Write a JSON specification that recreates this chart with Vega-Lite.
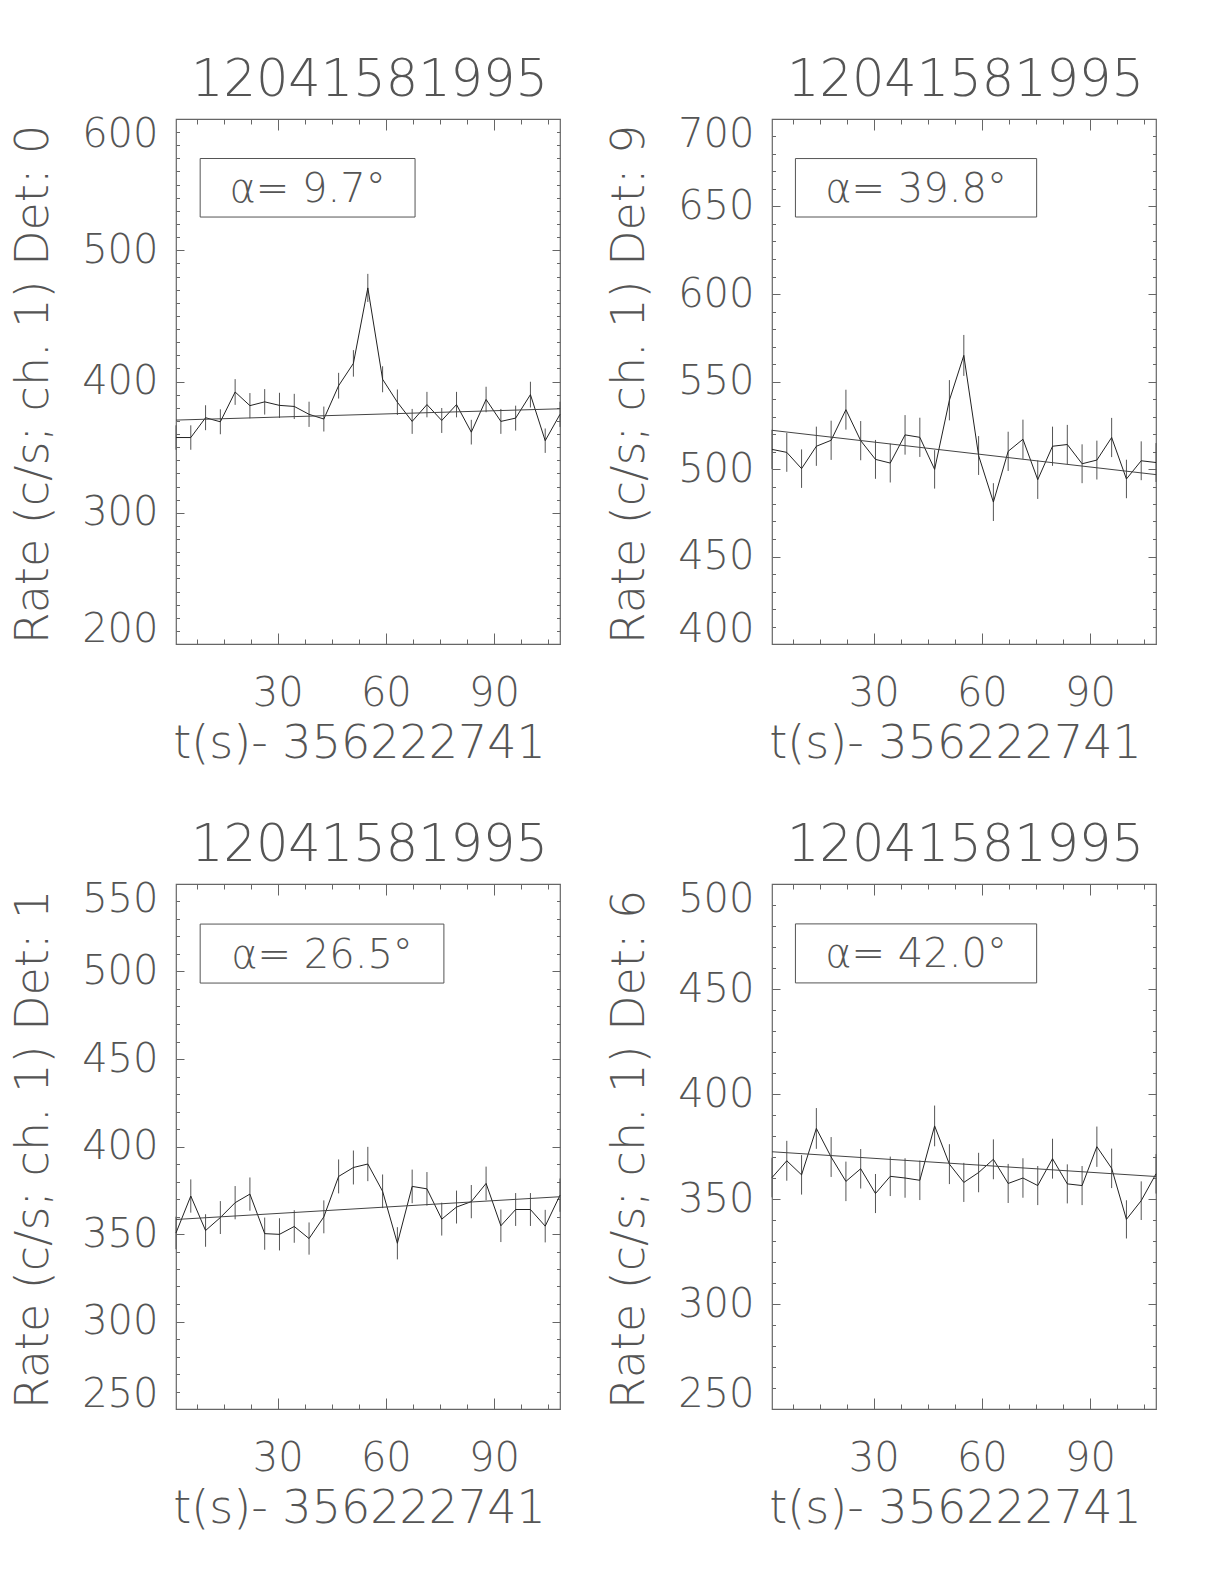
{
"$schema": "https://vega.github.io/schema/vega-lite/v6.json",
"background": "white",
"padding": {"left": 9, "top": 53, "right": 10, "bottom": 10},
"columns": 2,
"spacing": {"row": 240, "column": 212},
"bounds": "flush",
"datasets": {
"p1": [
{"t":1.8,"rate":357.3,"err":9.3},{"t":5.9,"rate":357.3,"err":9.3},{"t":10.0,"rate":372.4,"err":9.5},{"t":14.1,"rate":369.3,"err":9.5},{"t":18.2,"rate":392.0,"err":9.8},{"t":22.3,"rate":381.6,"err":9.6},{"t":26.4,"rate":384.5,"err":9.7},{"t":30.5,"rate":381.8,"err":9.6},{"t":34.6,"rate":381.0,"err":9.6},{"t":38.7,"rate":375.0,"err":9.6},{"t":42.8,"rate":371.4,"err":9.5},{"t":46.9,"rate":396.8,"err":9.8},{"t":51.0,"rate":413.8,"err":10.1},{"t":55.0,"rate":471.3,"err":10.7},{"t":59.1,"rate":401.7,"err":9.9},{"t":63.2,"rate":384.2,"err":9.7},{"t":67.3,"rate":369.6,"err":9.5},{"t":71.4,"rate":382.4,"err":9.7},{"t":75.5,"rate":370.3,"err":9.5},{"t":79.6,"rate":382.4,"err":9.7},{"t":83.7,"rate":361.4,"err":9.4},{"t":87.8,"rate":386.3,"err":9.7},{"t":91.9,"rate":369.6,"err":9.5},{"t":96.0,"rate":372.1,"err":9.5},{"t":100.1,"rate":390.0,"err":9.8},{"t":104.2,"rate":354.9,"err":9.3},{"t":108.3,"rate":375.0,"err":9.6}
],
"f1": [{"t":1.8,"fit":370.6},{"t":108.3,"fit":379.2}],
"p2": [
{"t":1.8,"rate":511.2,"err":11.2},{"t":5.9,"rate":509.5,"err":11.1},{"t":10.0,"rate":500.2,"err":11.0},{"t":14.1,"rate":513.0,"err":11.2},{"t":18.2,"rate":516.4,"err":11.2},{"t":22.3,"rate":533.9,"err":11.4},{"t":26.4,"rate":516.2,"err":11.2},{"t":30.5,"rate":505.5,"err":11.1},{"t":34.6,"rate":503.4,"err":11.1},{"t":38.7,"rate":519.5,"err":11.3},{"t":42.8,"rate":518.1,"err":11.2},{"t":46.9,"rate":499.8,"err":11.0},{"t":51.0,"rate":539.3,"err":11.5},{"t":55.0,"rate":564.9,"err":11.7},{"t":59.1,"rate":507.7,"err":11.1},{"t":63.2,"rate":481.1,"err":10.8},{"t":67.3,"rate":510.1,"err":11.2},{"t":71.4,"rate":517.0,"err":11.2},{"t":75.5,"rate":493.9,"err":11.0},{"t":79.6,"rate":513.0,"err":11.2},{"t":83.7,"rate":514.0,"err":11.2},{"t":87.8,"rate":503.0,"err":11.1},{"t":91.9,"rate":505.1,"err":11.1},{"t":96.0,"rate":518.0,"err":11.2},{"t":100.1,"rate":494.3,"err":11.0},{"t":104.2,"rate":504.7,"err":11.1},{"t":108.3,"rate":503.7,"err":11.1}
],
"f2": [{"t":1.8,"fit":522.1},{"t":108.3,"fit":496.8}],
"p3": [
{"t":1.8,"rate":350.6,"err":9.3},{"t":5.9,"rate":371.7,"err":9.5},{"t":10.0,"rate":352.0,"err":9.3},{"t":14.1,"rate":359.4,"err":9.4},{"t":18.2,"rate":367.9,"err":9.5},{"t":22.3,"rate":372.8,"err":9.5},{"t":26.4,"rate":350.2,"err":9.2},{"t":30.5,"rate":349.8,"err":9.2},{"t":34.6,"rate":354.3,"err":9.3},{"t":38.7,"rate":347.4,"err":9.2},{"t":42.8,"rate":359.8,"err":9.4},{"t":46.9,"rate":382.9,"err":9.7},{"t":51.0,"rate":388.0,"err":9.7},{"t":55.0,"rate":390.0,"err":9.8},{"t":59.1,"rate":374.4,"err":9.6},{"t":63.2,"rate":344.7,"err":9.2},{"t":67.3,"rate":377.2,"err":9.6},{"t":71.4,"rate":375.8,"err":9.6},{"t":75.5,"rate":358.5,"err":9.4},{"t":79.6,"rate":365.4,"err":9.4},{"t":83.7,"rate":368.5,"err":9.5},{"t":87.8,"rate":378.9,"err":9.6},{"t":91.9,"rate":354.7,"err":9.3},{"t":96.0,"rate":364.0,"err":9.4},{"t":100.1,"rate":364.0,"err":9.4},{"t":104.2,"rate":354.5,"err":9.3},{"t":108.3,"rate":372.2,"err":9.5}
],
"f3": [{"t":1.8,"fit":358.3},{"t":108.3,"fit":371.3}],
"p4": [
{"t":1.8,"rate":360.2,"err":9.4},{"t":5.9,"rate":368.2,"err":9.5},{"t":10.0,"rate":361.5,"err":9.4},{"t":14.1,"rate":383.6,"err":9.7},{"t":18.2,"rate":370.0,"err":9.5},{"t":22.3,"rate":358.4,"err":9.4},{"t":26.4,"rate":364.4,"err":9.4},{"t":30.5,"rate":352.6,"err":9.3},{"t":34.6,"rate":360.8,"err":9.4},{"t":38.7,"rate":360.0,"err":9.4},{"t":42.8,"rate":358.9,"err":9.4},{"t":46.9,"rate":384.8,"err":9.7},{"t":51.0,"rate":366.6,"err":9.5},{"t":55.0,"rate":357.9,"err":9.3},{"t":59.1,"rate":362.6,"err":9.4},{"t":63.2,"rate":368.9,"err":9.5},{"t":67.3,"rate":357.4,"err":9.3},{"t":71.4,"rate":360.0,"err":9.4},{"t":75.5,"rate":356.4,"err":9.3},{"t":79.6,"rate":369.2,"err":9.5},{"t":83.7,"rate":357.2,"err":9.3},{"t":87.8,"rate":356.4,"err":9.3},{"t":91.9,"rate":374.9,"err":9.6},{"t":96.0,"rate":364.6,"err":9.4},{"t":100.1,"rate":340.3,"err":9.1},{"t":104.2,"rate":349.2,"err":9.2},{"t":108.3,"rate":362.0,"err":9.4}
],
"f4": [{"t":1.8,"fit":372.5},{"t":108.3,"fit":360.7}]
},
"concat": [
{
"width": 384, "height": 525,
"resolve": {"axis": {"x": "independent", "y": "independent"}},
"layer": [
{"data": {"name": "p1"}, "mark": {"type": "errorbar", "ticks": false, "color": "#555", "thickness": 1},
 "encoding": {
  "x": {"field": "t", "type": "quantitative", "scale": {"domain": [1.8, 108.3], "nice": false, "zero": false},
        "axis": {"orient": "bottom", "values": [7.5,15,22.5,30,37.5,45,52.5,60,67.5,75,82.5,90,97.5,105], "labelExpr": "datum.value % 30 === 0 ? datum.label : ''", "tickSize": {"condition": {"test": "datum.value % 30 === 0", "value": -11}, "value": -5}, "labelPadding": 40, "labelFlush": false, "title": "t(s)- 356222741", "titleX": 183, "titleY": 113, "titleBaseline": "alphabetic", "titleAlign": "center"}},
  "y": {"field": "rate", "type": "quantitative", "scale": {"domain": [200, 600], "nice": false, "zero": false},
        "axis": {"orient": "left", "values": [200,210,220,230,240,250,260,270,280,290,300,310,320,330,340,350,360,370,380,390,400,410,420,430,440,450,460,470,480,490,500,510,520,530,540,550,560,570,580,590,600], "labelExpr": "datum.value % 100 === 0 ? datum.label : ''", "tickSize": {"condition": {"test": "datum.value % 100 === 0", "value": -8}, "value": -3.5}, "labelPadding": 26, "labelFlush": true, "labelFlushOffset": 5, "title": "Rate (c/s; ch. 1) Det: 0", "titleX": -129, "titleY": 265, "titleAngle": 270, "titleBaseline": "alphabetic", "titleAlign": "center"}},
  "yError": {"field": "err"}
 }},
{"data": {"name": "p1"}, "mark": {"type": "line", "color": "#222", "strokeWidth": 1},
 "encoding": {
  "x": {"field": "t", "type": "quantitative", "scale": {"domain": [1.8, 108.3], "nice": false, "zero": false},
        "axis": {"orient": "top", "values": [7.5,15,22.5,30,37.5,45,52.5,60,67.5,75,82.5,90,97.5,105], "labels": false, "tickSize": {"condition": {"test": "datum.value % 30 === 0", "value": -11}, "value": -5}, "title": "12041581995", "titleX": 193, "titleY": -24, "titleBaseline": "alphabetic", "titleAlign": "center", "titleFontSize": 51}},
  "y": {"field": "rate", "type": "quantitative", "scale": {"domain": [200, 600], "nice": false, "zero": false},
        "axis": {"orient": "right", "values": [200,210,220,230,240,250,260,270,280,290,300,310,320,330,340,350,360,370,380,390,400,410,420,430,440,450,460,470,480,490,500,510,520,530,540,550,560,570,580,590,600], "labels": false, "title": null, "tickSize": {"condition": {"test": "datum.value % 100 === 0", "value": -8}, "value": -3.5}}}
 }},
{"data": {"name": "f1"}, "mark": {"type": "line", "color": "#444", "strokeWidth": 1},
 "encoding": {"x": {"field": "t", "type": "quantitative", "axis": null}, "y": {"field": "fit", "type": "quantitative", "axis": null}}},
{"data": {"values": [{"label": "α= 9.7°"}]}, "mark": {"type": "rect", "fillOpacity": 0, "stroke": "#555", "strokeWidth": 1},
 "encoding": {"x": {"datum": 8.5, "type": "quantitative", "axis": null}, "x2": {"datum": 68.1}, "y": {"datum": 525.3, "type": "quantitative", "axis": null}, "y2": {"datum": 569.9}}},
{"data": {"values": [{"label": "α= 9.7°"}]}, "mark": {"type": "text", "font": "DejaVu Sans", "fontWeight": 200, "fontSize": 40, "color": "#555", "align": "center", "baseline": "middle", "dy": 2},
 "encoding": {"x": {"datum": 38.3, "type": "quantitative", "axis": null}, "y": {"datum": 547.6, "type": "quantitative", "axis": null}, "text": {"field": "label"}}}
]
},
{
"width": 384, "height": 525,
"resolve": {"axis": {"x": "independent", "y": "independent"}},
"layer": [
{"data": {"name": "p2"}, "mark": {"type": "errorbar", "ticks": false, "color": "#555", "thickness": 1},
 "encoding": {
  "x": {"field": "t", "type": "quantitative", "scale": {"domain": [1.8, 108.3], "nice": false, "zero": false},
        "axis": {"orient": "bottom", "values": [7.5,15,22.5,30,37.5,45,52.5,60,67.5,75,82.5,90,97.5,105], "labelExpr": "datum.value % 30 === 0 ? datum.label : ''", "tickSize": {"condition": {"test": "datum.value % 30 === 0", "value": -11}, "value": -5}, "labelPadding": 40, "labelFlush": false, "title": "t(s)- 356222741", "titleX": 183, "titleY": 113, "titleBaseline": "alphabetic", "titleAlign": "center"}},
  "y": {"field": "rate", "type": "quantitative", "scale": {"domain": [400, 700], "nice": false, "zero": false},
        "axis": {"orient": "left", "values": [400,410,420,430,440,450,460,470,480,490,500,510,520,530,540,550,560,570,580,590,600,610,620,630,640,650,660,670,680,690,700], "labelExpr": "datum.value % 50 === 0 ? datum.label : ''", "tickSize": {"condition": {"test": "datum.value % 50 === 0", "value": -8}, "value": -3.5}, "labelPadding": 26, "labelFlush": true, "labelFlushOffset": 5, "title": "Rate (c/s; ch. 1) Det: 9", "titleX": -129, "titleY": 265, "titleAngle": 270, "titleBaseline": "alphabetic", "titleAlign": "center"}},
  "yError": {"field": "err"}
 }},
{"data": {"name": "p2"}, "mark": {"type": "line", "color": "#222", "strokeWidth": 1},
 "encoding": {
  "x": {"field": "t", "type": "quantitative", "scale": {"domain": [1.8, 108.3], "nice": false, "zero": false},
        "axis": {"orient": "top", "values": [7.5,15,22.5,30,37.5,45,52.5,60,67.5,75,82.5,90,97.5,105], "labels": false, "tickSize": {"condition": {"test": "datum.value % 30 === 0", "value": -11}, "value": -5}, "title": "12041581995", "titleX": 193, "titleY": -24, "titleBaseline": "alphabetic", "titleAlign": "center", "titleFontSize": 51}},
  "y": {"field": "rate", "type": "quantitative", "scale": {"domain": [400, 700], "nice": false, "zero": false},
        "axis": {"orient": "right", "values": [400,410,420,430,440,450,460,470,480,490,500,510,520,530,540,550,560,570,580,590,600,610,620,630,640,650,660,670,680,690,700], "labels": false, "title": null, "tickSize": {"condition": {"test": "datum.value % 50 === 0", "value": -8}, "value": -3.5}}}
 }},
{"data": {"name": "f2"}, "mark": {"type": "line", "color": "#444", "strokeWidth": 1},
 "encoding": {"x": {"field": "t", "type": "quantitative", "axis": null}, "y": {"field": "fit", "type": "quantitative", "axis": null}}},
{"data": {"values": [{"label": "α= 39.8°"}]}, "mark": {"type": "rect", "fillOpacity": 0, "stroke": "#555", "strokeWidth": 1},
 "encoding": {"x": {"datum": 8.3, "type": "quantitative", "axis": null}, "x2": {"datum": 75.2}, "y": {"datum": 644.0, "type": "quantitative", "axis": null}, "y2": {"datum": 677.4}}},
{"data": {"values": [{"label": "α= 39.8°"}]}, "mark": {"type": "text", "font": "DejaVu Sans", "fontWeight": 200, "fontSize": 40, "color": "#555", "align": "center", "baseline": "middle", "dy": 2},
 "encoding": {"x": {"datum": 41.75, "type": "quantitative", "axis": null}, "y": {"datum": 660.7, "type": "quantitative", "axis": null}, "text": {"field": "label"}}}
]
},
{
"width": 384, "height": 525,
"resolve": {"axis": {"x": "independent", "y": "independent"}},
"layer": [
{"data": {"name": "p3"}, "mark": {"type": "errorbar", "ticks": false, "color": "#555", "thickness": 1},
 "encoding": {
  "x": {"field": "t", "type": "quantitative", "scale": {"domain": [1.8, 108.3], "nice": false, "zero": false},
        "axis": {"orient": "bottom", "values": [7.5,15,22.5,30,37.5,45,52.5,60,67.5,75,82.5,90,97.5,105], "labelExpr": "datum.value % 30 === 0 ? datum.label : ''", "tickSize": {"condition": {"test": "datum.value % 30 === 0", "value": -11}, "value": -5}, "labelPadding": 40, "labelFlush": false, "title": "t(s)- 356222741", "titleX": 183, "titleY": 113, "titleBaseline": "alphabetic", "titleAlign": "center"}},
  "y": {"field": "rate", "type": "quantitative", "scale": {"domain": [250, 550], "nice": false, "zero": false},
        "axis": {"orient": "left", "values": [250,260,270,280,290,300,310,320,330,340,350,360,370,380,390,400,410,420,430,440,450,460,470,480,490,500,510,520,530,540,550], "labelExpr": "datum.value % 50 === 0 ? datum.label : ''", "tickSize": {"condition": {"test": "datum.value % 50 === 0", "value": -8}, "value": -3.5}, "labelPadding": 26, "labelFlush": true, "labelFlushOffset": 5, "title": "Rate (c/s; ch. 1) Det: 1", "titleX": -129, "titleY": 265, "titleAngle": 270, "titleBaseline": "alphabetic", "titleAlign": "center"}},
  "yError": {"field": "err"}
 }},
{"data": {"name": "p3"}, "mark": {"type": "line", "color": "#222", "strokeWidth": 1},
 "encoding": {
  "x": {"field": "t", "type": "quantitative", "scale": {"domain": [1.8, 108.3], "nice": false, "zero": false},
        "axis": {"orient": "top", "values": [7.5,15,22.5,30,37.5,45,52.5,60,67.5,75,82.5,90,97.5,105], "labels": false, "tickSize": {"condition": {"test": "datum.value % 30 === 0", "value": -11}, "value": -5}, "title": "12041581995", "titleX": 193, "titleY": -24, "titleBaseline": "alphabetic", "titleAlign": "center", "titleFontSize": 51}},
  "y": {"field": "rate", "type": "quantitative", "scale": {"domain": [250, 550], "nice": false, "zero": false},
        "axis": {"orient": "right", "values": [250,260,270,280,290,300,310,320,330,340,350,360,370,380,390,400,410,420,430,440,450,460,470,480,490,500,510,520,530,540,550], "labels": false, "title": null, "tickSize": {"condition": {"test": "datum.value % 50 === 0", "value": -8}, "value": -3.5}}}
 }},
{"data": {"name": "f3"}, "mark": {"type": "line", "color": "#444", "strokeWidth": 1},
 "encoding": {"x": {"field": "t", "type": "quantitative", "axis": null}, "y": {"field": "fit", "type": "quantitative", "axis": null}}},
{"data": {"values": [{"label": "α= 26.5°"}]}, "mark": {"type": "rect", "fillOpacity": 0, "stroke": "#555", "strokeWidth": 1},
 "encoding": {"x": {"datum": 8.5, "type": "quantitative", "axis": null}, "x2": {"datum": 76.1}, "y": {"datum": 493.4, "type": "quantitative", "axis": null}, "y2": {"datum": 527.1}}},
{"data": {"values": [{"label": "α= 26.5°"}]}, "mark": {"type": "text", "font": "DejaVu Sans", "fontWeight": 200, "fontSize": 40, "color": "#555", "align": "center", "baseline": "middle", "dy": 2},
 "encoding": {"x": {"datum": 42.3, "type": "quantitative", "axis": null}, "y": {"datum": 510.25, "type": "quantitative", "axis": null}, "text": {"field": "label"}}}
]
},
{
"width": 384, "height": 525,
"resolve": {"axis": {"x": "independent", "y": "independent"}},
"layer": [
{"data": {"name": "p4"}, "mark": {"type": "errorbar", "ticks": false, "color": "#555", "thickness": 1},
 "encoding": {
  "x": {"field": "t", "type": "quantitative", "scale": {"domain": [1.8, 108.3], "nice": false, "zero": false},
        "axis": {"orient": "bottom", "values": [7.5,15,22.5,30,37.5,45,52.5,60,67.5,75,82.5,90,97.5,105], "labelExpr": "datum.value % 30 === 0 ? datum.label : ''", "tickSize": {"condition": {"test": "datum.value % 30 === 0", "value": -11}, "value": -5}, "labelPadding": 40, "labelFlush": false, "title": "t(s)- 356222741", "titleX": 183, "titleY": 113, "titleBaseline": "alphabetic", "titleAlign": "center"}},
  "y": {"field": "rate", "type": "quantitative", "scale": {"domain": [250, 500], "nice": false, "zero": false},
        "axis": {"orient": "left", "values": [250,260,270,280,290,300,310,320,330,340,350,360,370,380,390,400,410,420,430,440,450,460,470,480,490,500], "labelExpr": "datum.value % 50 === 0 ? datum.label : ''", "tickSize": {"condition": {"test": "datum.value % 50 === 0", "value": -8}, "value": -3.5}, "labelPadding": 26, "labelFlush": true, "labelFlushOffset": 5, "title": "Rate (c/s; ch. 1) Det: 6", "titleX": -129, "titleY": 265, "titleAngle": 270, "titleBaseline": "alphabetic", "titleAlign": "center"}},
  "yError": {"field": "err"}
 }},
{"data": {"name": "p4"}, "mark": {"type": "line", "color": "#222", "strokeWidth": 1},
 "encoding": {
  "x": {"field": "t", "type": "quantitative", "scale": {"domain": [1.8, 108.3], "nice": false, "zero": false},
        "axis": {"orient": "top", "values": [7.5,15,22.5,30,37.5,45,52.5,60,67.5,75,82.5,90,97.5,105], "labels": false, "tickSize": {"condition": {"test": "datum.value % 30 === 0", "value": -11}, "value": -5}, "title": "12041581995", "titleX": 193, "titleY": -24, "titleBaseline": "alphabetic", "titleAlign": "center", "titleFontSize": 51}},
  "y": {"field": "rate", "type": "quantitative", "scale": {"domain": [250, 500], "nice": false, "zero": false},
        "axis": {"orient": "right", "values": [250,260,270,280,290,300,310,320,330,340,350,360,370,380,390,400,410,420,430,440,450,460,470,480,490,500], "labels": false, "title": null, "tickSize": {"condition": {"test": "datum.value % 50 === 0", "value": -8}, "value": -3.5}}}
 }},
{"data": {"name": "f4"}, "mark": {"type": "line", "color": "#444", "strokeWidth": 1},
 "encoding": {"x": {"field": "t", "type": "quantitative", "axis": null}, "y": {"field": "fit", "type": "quantitative", "axis": null}}},
{"data": {"values": [{"label": "α= 42.0°"}]}, "mark": {"type": "rect", "fillOpacity": 0, "stroke": "#555", "strokeWidth": 1},
 "encoding": {"x": {"datum": 8.3, "type": "quantitative", "axis": null}, "x2": {"datum": 75.2}, "y": {"datum": 452.9, "type": "quantitative", "axis": null}, "y2": {"datum": 481.0}}},
{"data": {"values": [{"label": "α= 42.0°"}]}, "mark": {"type": "text", "font": "DejaVu Sans", "fontWeight": 200, "fontSize": 40, "color": "#555", "align": "center", "baseline": "middle", "dy": 2},
 "encoding": {"x": {"datum": 41.75, "type": "quantitative", "axis": null}, "y": {"datum": 466.95, "type": "quantitative", "axis": null}, "text": {"field": "label"}}}
]
}
],
"config": {
 "view": {"stroke": "#666", "strokeWidth": 1.2},
 "axis": {"domain": false, "grid": false, "tickColor": "#666", "tickWidth": 1, "labelColor": "#555", "titleColor": "#555", "labelFont": "DejaVu Sans", "titleFont": "DejaVu Sans", "labelFontSize": 40, "titleFontSize": 46, "labelFontWeight": 200, "titleFontWeight": 200, "labelOverlap": false}
}
}
